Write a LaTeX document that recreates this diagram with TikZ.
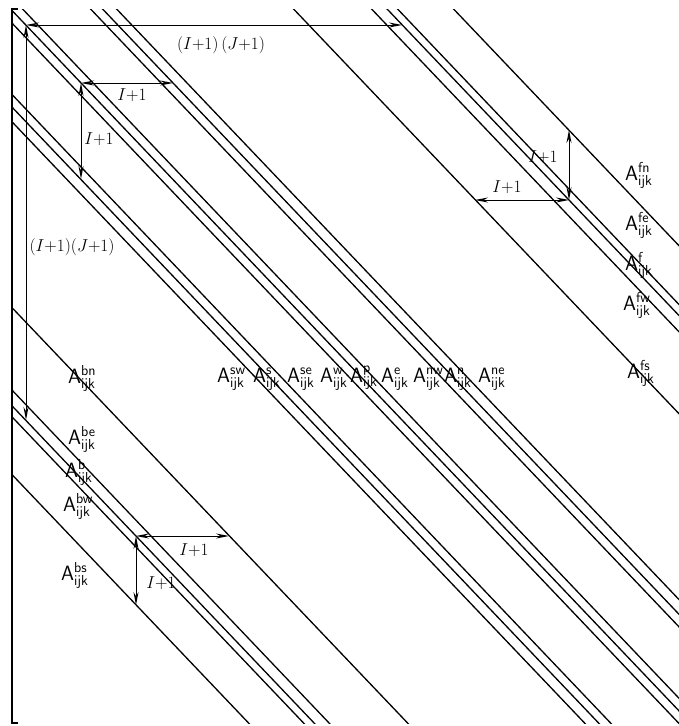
\documentclass[tikz,border=0pt]{standalone}
\usetikzlibrary{arrows.meta}
\tikzset{
  diagline/.style={line width=1.3pt},
  dimarrow/.style={line width=1pt,{Stealth[length=13pt,width=5pt]}-{Stealth[length=13pt,width=5pt]}},
  alabel/.style={anchor=base west,inner sep=0pt,font=\fontsize{20.74}{24}\selectfont},
  dlabel/.style={inner sep=0pt,font=\fontsize{17.28}{20}\selectfont}
}
\newcommand\mydiag[1]{\draw[diagline] (#1,0) -- ++(760,798);}
\newcommand\coefA[1]{$\mathsf{A}^{\mathsf{#1}}_{\mathsf{ijk}}$}
\begin{document}
\begin{tikzpicture}[x={(1pt,0)},y={(0,-1pt)}]
\useasboundingbox (0,0) rectangle (679,726);
% left bracket
\draw[line width=1.3pt] (18,9) -- (12,9) -- (12,723) -- (18,723);
% diagonals
\begin{scope}
\clip (12,9) rectangle (679,723);
% main triple w p e
\mydiag{-10}\mydiag{2}\mydiag{14}
% n triple
\mydiag{82}\mydiag{94}\mydiag{108}
% s triple
\mydiag{-78}\mydiag{-90}\mydiag{-104}
% f group
\mydiag{285}\mydiag{363}\mydiag{378.5}\mydiag{389}\mydiag{445}
% b group
\mydiag{-281}\mydiag{-359.5}\mydiag{-374.5}\mydiag{-385}\mydiag{-440}
\end{scope}
% dimension arrows
\coordinate (c1) at (26,25);
\coordinate (c1r) at (402,25);
\coordinate (c1d) at (26,420);
\draw[dimarrow] (c1) -- (c1r);
\draw[dimarrow] (c1) -- (c1d);
\node[dlabel] (l1) at (221,45) {$(I{+}1)\,(J{+}1)$};
\node[dlabel] (l2) at (72,247) {$(I{+}1)(J{+}1)$};

\coordinate (c2) at (81,83);
\coordinate (c2r) at (173,83);
\coordinate (c2d) at (81,179);
\draw[dimarrow] (c2) -- (c2r);
\draw[dimarrow] (c2) -- (c2d);
\node[dlabel] (l3) at (132,95) {$I{+}1$};
\node[dlabel] (l4) at (99,139) {$I{+}1$};

\coordinate (c3) at (569,200);
\coordinate (c3u) at (569,130);
\coordinate (c3l) at (475,200);
\draw[dimarrow] (c3) -- (c3u);
\draw[dimarrow] (c3) -- (c3l);
\node[dlabel] (l5) at (507,187) {$I{+}1$};
\node[dlabel] (l6) at (543,157) {$I{+}1$};

\coordinate (c4) at (136,536);
\coordinate (c4r) at (229,536);
\coordinate (c4d) at (136,605);
\draw[dimarrow] (c4) -- (c4r);
\draw[dimarrow] (c4) -- (c4d);
\node[dlabel] (l7) at (194,550) {$I{+}1$};
\node[dlabel] (l8) at (161,583) {$I{+}1$};

% middle labels
\node[alabel] (asw) at (217,382) {\coefA{sw}};
\node[alabel] (as) at (253,382) {\coefA{s}};
\node[alabel] (ase) at (287,382) {\coefA{se}};
\node[alabel] (aw) at (320,382) {\coefA{w}};
\node[alabel] (ap) at (350,382) {\coefA{p}};
\node[alabel] (ae) at (381,382) {\coefA{e}};
\node[alabel] (anw) at (413,382) {\coefA{nw}};
\node[alabel] (an) at (444,382) {\coefA{n}};
\node[alabel] (ane) at (478,382) {\coefA{ne}};
% left labels
\node[alabel] (abn) at (68,383) {\coefA{bn}};
\node[alabel] (abe) at (68,444) {\coefA{be}};
\node[alabel] (ab) at (65,477) {\coefA{b}};
\node[alabel] (abw) at (63,511) {\coefA{bw}};
\node[alabel] (abs) at (61,580) {\coefA{bs}};
% right labels
\node[alabel] (afn) at (625,180) {\coefA{fn}};
\node[alabel] (afe) at (625,230) {\coefA{fe}};
\node[alabel] (af) at (625,270) {\coefA{f}};
\node[alabel] (afw) at (623,310) {\coefA{fw}};
\node[alabel] (afs) at (627,378) {\coefA{fs}};
\end{tikzpicture}
\end{document}
